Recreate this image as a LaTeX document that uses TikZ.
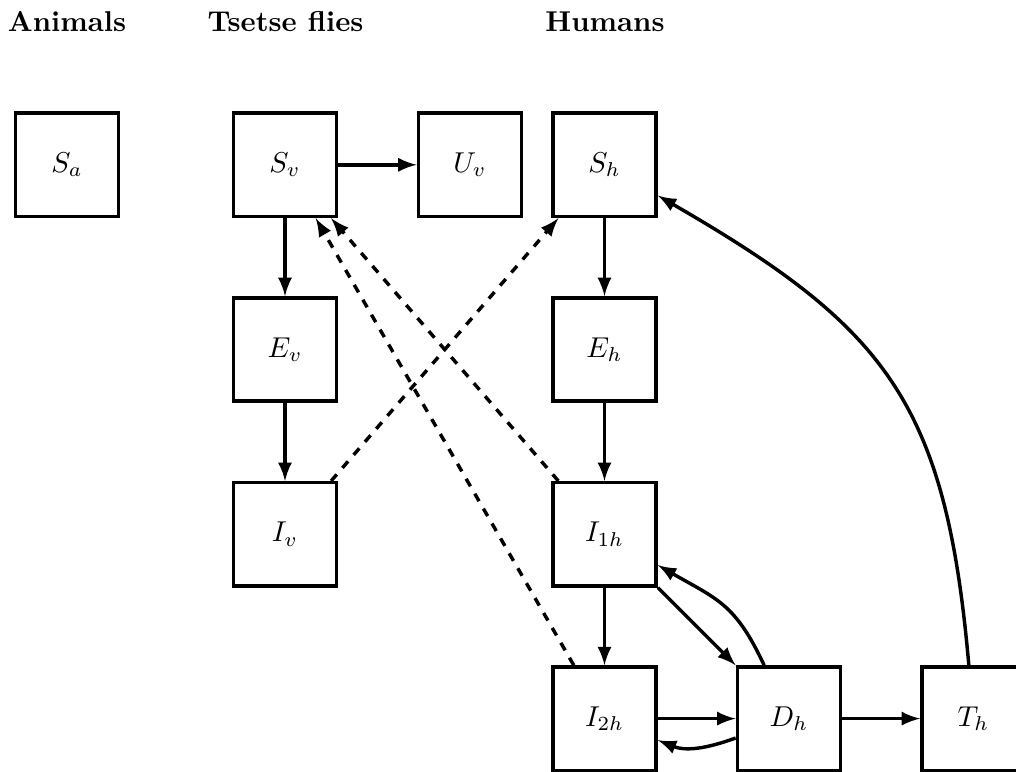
\documentclass[tikz,border=0pt]{standalone}
\usetikzlibrary{arrows}
\begin{document}
\begin{tikzpicture}[x=0.3484pt,y=0.3484pt,
  box/.style={draw,very thick,minimum size=36pt,inner sep=0pt},
  title/.style={anchor=base,inner sep=0pt,font=\bfseries},
  flow/.style={very thick,-latex},
  infect/.style={very thick,dashed,-latex}]
\useasboundingbox (0,0) rectangle (1016,771);
% titles
\node[title] (tA) at (67,739.3) {Animals};
\node[title] (tV) at (285.5,739.3) {Tsetse flies};
\node[title] (tH) at (605,739.3) {Humans};
% boxes
\node[box] (Sa) at (67,606.2) {$S_a$};
\node[box] (Sv) at (285,606.2) {$S_v$};
\node[box] (Uv) at (470,606.2) {$U_v$};
\node[box] (Sh) at (604.5,606.2) {$S_h$};
\node[box] (Ev) at (285,421.5) {$E_v$};
\node[box] (Eh) at (604.5,421.5) {$E_h$};
\node[box] (Iv) at (285,236.7) {$I_v$};
\node[box] (Ia) at (604.5,236.7) {$I_{1h}$};
\node[box] (Ib) at (604.5,52.4) {$I_{2h}$};
\node[box] (Dh) at (789,52.4) {$D_h$};
\node[box] (Th) at (973.5,52.4) {$T_h$};
% solid flows
\draw[flow] (Sv) -- (Uv);
\draw[flow] (Sv) -- (Ev);
\draw[flow] (Ev) -- (Iv);
\draw[flow] (Sh) -- (Eh);
\draw[flow] (Eh) -- (Ia);
\draw[flow] (Ia) -- (Ib);
\draw[flow] (Ia) -- (Dh);
\draw[flow] (Ib) -- (Dh);
\draw[flow] (Dh) -- (Th);
\draw[flow] (Dh) to[out=115,in=330,looseness=1.2] (Ia);
\draw[flow] (Dh) to[out=200,in=338] (Ib);
\draw[flow] (Th) to[out=95,in=330,looseness=1.2] (Sh);
% infection links
\draw[infect] (Iv) -- (Sh);
\draw[infect] (Ia) -- (Sv);
\draw[infect] (Ib) -- (Sv);
\end{tikzpicture}
\end{document}
